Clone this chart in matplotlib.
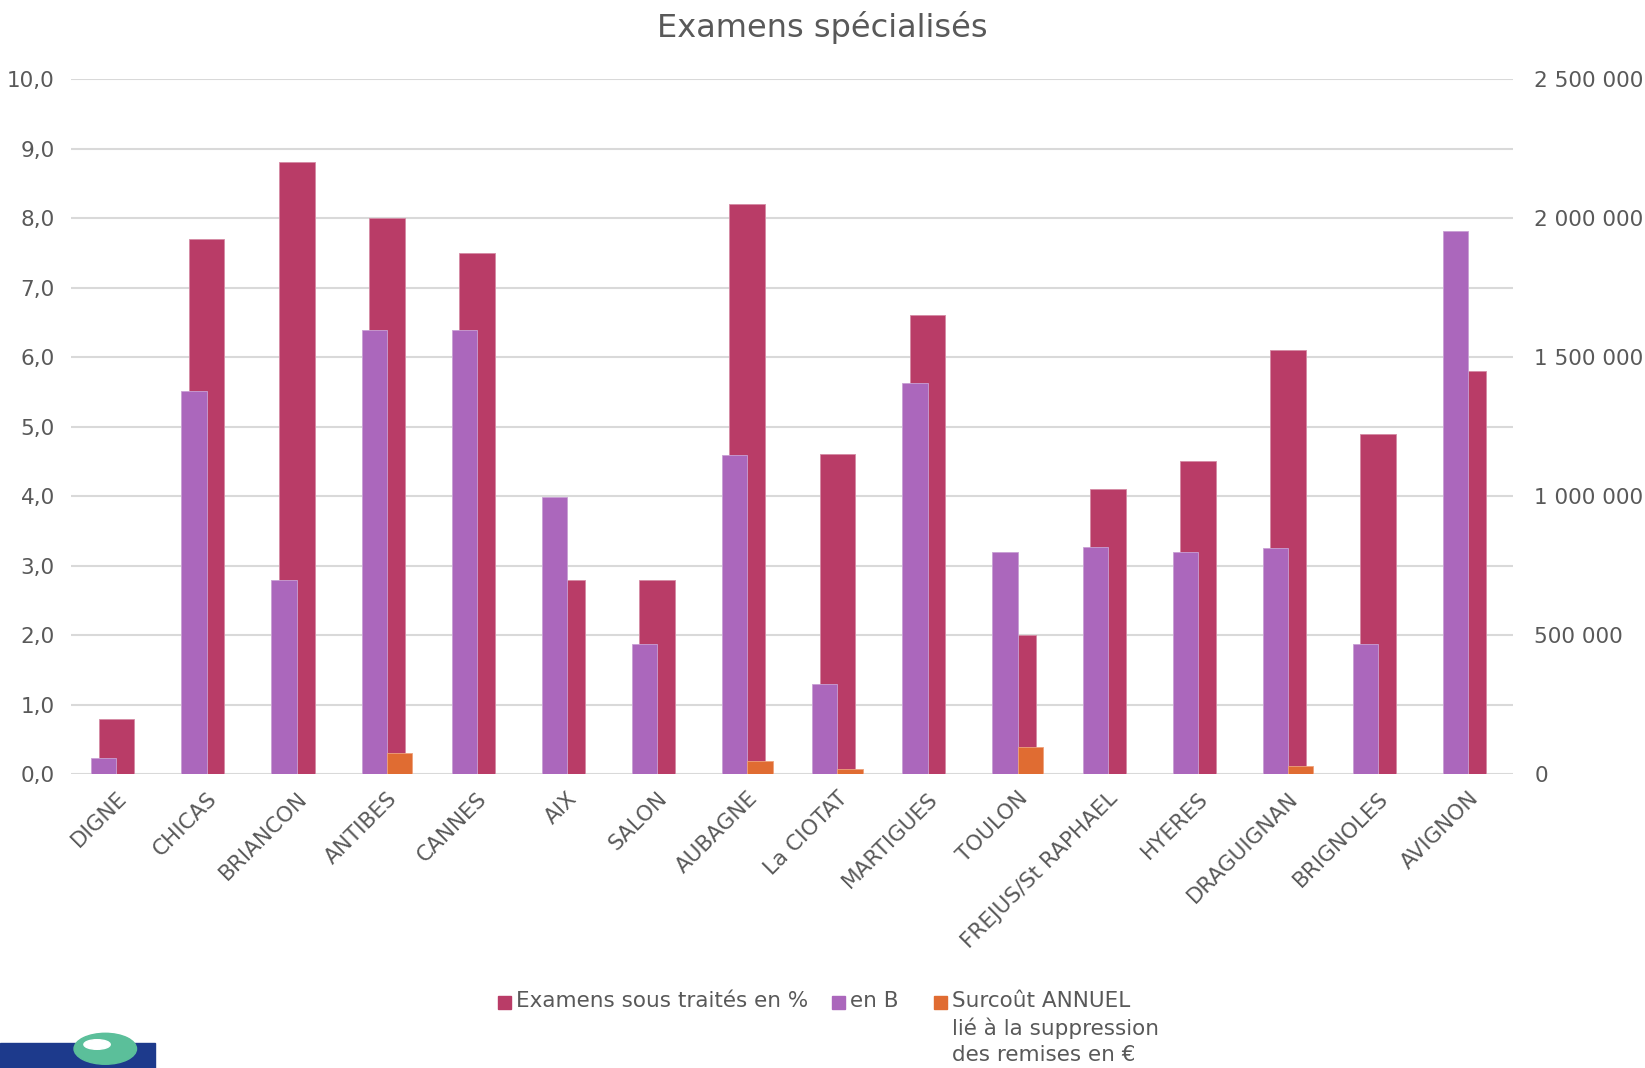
import matplotlib.pyplot as plt
from matplotlib.patches import Rectangle, Ellipse
import numpy as np

# data
sites = ['DIGNE', 'CHICAS', 'BRIANCON', 'ANTIBES', 'CANNES', 'AIX', 'SALON',
         'AUBAGNE', 'La CIOTAT', 'MARTIGUES', 'TOULON', 'FREJUS/St RAPHAEL',
         'HYERES', 'DRAGUIGNAN', 'BRIGNOLES', 'AVIGNON']
pct_sous_traites = [0.8, 7.7, 8.8, 8.0, 7.5, 2.8, 2.8, 8.2, 4.6, 6.6, 2.0,
                    4.1, 4.5, 6.1, 4.9, 5.8]
en_b = [60000, 1378000, 698000, 1598000, 1598000, 998000, 468000, 1148000,
        324000, 1408000, 798000, 818000, 798000, 815000, 468000, 1953000]
surcout = [0, 0, 0, 75000, 0, 0, 0, 48000, 20000, 0, 98000, 0, 0, 30000, 0, 0]

left_ticks = np.arange(0, 11, 1)
right_ticks = np.arange(0, 2500001, 500000)

labels = ['Examens sous traités en %', 'en B',
          'Surcoût ANNUEL\nlié à la suppression\ndes remises en €']

crimson = '#B93C67'
purple = '#AB67BC'
orange = '#E06C32'
txt = '#595959'

plt.rcParams['font.family'] = ['DejaVu Sans']

fig = plt.figure(figsize=(16.45, 10.68), dpi=100)
ax = fig.add_axes([0.0434, 0.275, 0.8766, 0.651])
ax2 = ax.twinx()

x = np.arange(len(sites))
ax.bar(x, pct_sous_traites, width=0.396, color=crimson, edgecolor='#d58aa4',
       linewidth=0.6, zorder=2)
ax2.bar(x - 0.14, en_b, width=0.28, color=purple, edgecolor='#c9a0d4',
        linewidth=0.6, zorder=2)
ax2.bar(x + 0.14, surcout, width=0.28, color=orange, edgecolor='#eea27c',
        linewidth=0.6, zorder=2)

ax.set_xlim(-0.5, len(sites) - 0.5)
ax.set_ylim(0, 10)
ax2.set_ylim(0, 2500000)
ax.set_yticks(left_ticks)
ax.set_yticklabels([f'{v:.1f}'.replace('.', ',') for v in left_ticks])
ax2.set_yticks(right_ticks)
ax2.set_yticklabels([f'{v:,}'.replace(',', ' ') for v in right_ticks])

ax.grid(axis='y', color='#D9D9D9', linewidth=1.5, zorder=0)
ax.set_axisbelow(True)
for a in (ax, ax2):
    for s in a.spines.values():
        s.set_visible(False)
    a.tick_params(length=0, labelsize=15.5, colors=txt)
ax.tick_params(axis='y', pad=12)
ax2.tick_params(axis='y', pad=15)

ax.set_xticks(x)
ax.set_xticklabels(sites, rotation=45, ha='right', rotation_mode='anchor',
                   fontsize=15.5, color=txt)
ax.tick_params(axis='x', pad=10)

fig.text(0.5, 0.974, 'Examens spécialisés', ha='center', va='center',
         fontsize=23, color=txt)

# legend: squares aligned with the first line of each label
leg_x = [0.303, 0.506, 0.568]
for lx, lab, col in zip(leg_x, labels, [crimson, purple, orange]):
    fig.patches.append(Rectangle((lx, 0.0555), 0.0075, 0.0115,
                                 transform=fig.transFigure, color=col))
    fig.text(lx + 0.0105, 0.0725, lab, ha='left', va='top', fontsize=15.5,
             color=txt, linespacing=1.38)

# partial logo in the lower-left corner
fig.patches.append(Rectangle((0, 0), 0.094, 0.023, transform=fig.transFigure,
                             color='#1d3a8c', zorder=1))
fig.patches.append(Ellipse((0.064, 0.018), 0.038, 0.029,
                           transform=fig.transFigure, color='#5bbf9a', zorder=2))
fig.patches.append(Ellipse((0.059, 0.022), 0.016, 0.009,
                           transform=fig.transFigure, color='white', zorder=3))

fig.savefig('out.png', dpi=100)
